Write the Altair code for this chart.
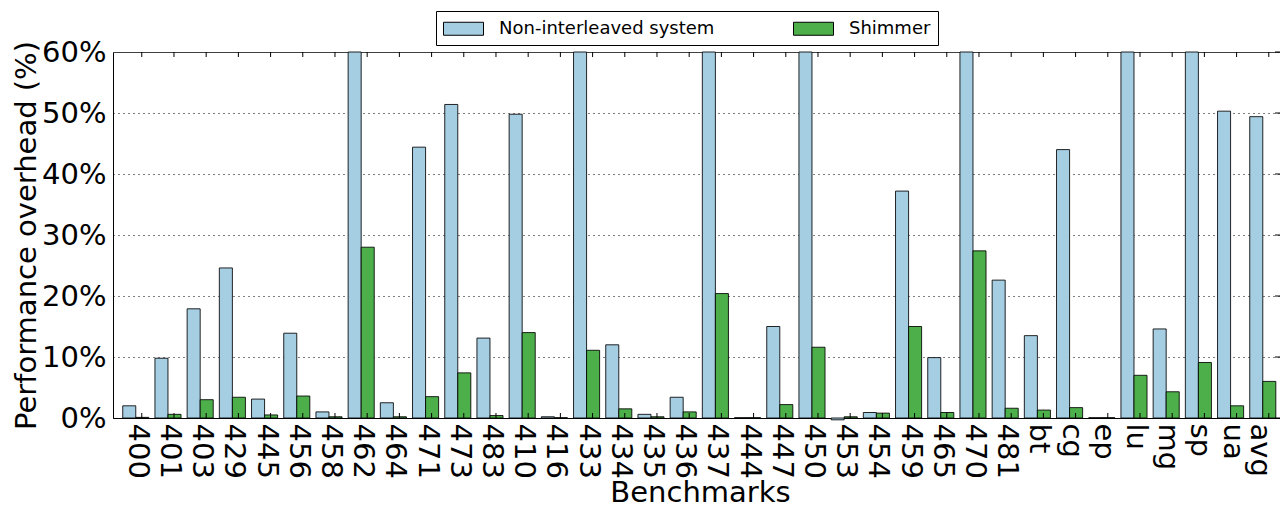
import altair as alt
import pandas as pd

categories = ["400", "401", "403", "429", "445", "456", "458", "462", "464", "471",
              "473", "483", "410", "416", "433", "434", "435", "436", "437", "444",
              "447", "450", "453", "454", "459", "465", "470", "481", "bt", "cg",
              "ep", "lu", "mg", "sp", "ua", "avg"]
# values above 60% are off the chart in the reference (drawn up to the top)
non_interleaved = [2.0, 9.8, 17.9, 24.6, 3.1, 13.9, 1.0, 65.0, 2.5, 44.4,
                   51.4, 13.1, 49.8, 0.2, 65.0, 12.0, 0.6, 3.4, 65.0, 0.05,
                   15.0, 65.0, -0.3, 0.9, 37.2, 9.9, 65.0, 22.6, 13.5, 44.0,
                   0.05, 65.0, 14.6, 65.0, 50.3, 49.4]
shimmer = [0.1, 0.6, 3.0, 3.4, 0.5, 3.6, 0.2, 28.0, 0.2, 3.5,
           7.4, 0.4, 14.0, 0.05, 11.1, 1.5, 0.2, 1.0, 20.4, 0.05,
           2.2, 11.6, 0.2, 0.8, 15.0, 0.9, 27.4, 1.6, 1.3, 1.7,
           0.05, 7.0, 4.3, 9.1, 2.0, 6.0]
series_names = ["Non-interleaved system", "Shimmer"]
series_colors = ["#a6cee3", "#4daf4a"]
y_ticks = [0, 10, 20, 30, 40, 50, 60]

rows = []
for c, a, b in zip(categories, non_interleaved, shimmer):
    rows.append({"bench": c, "series": series_names[0], "value": a})
    rows.append({"bench": c, "series": series_names[1], "value": b})
df = pd.DataFrame(rows)
df_c = pd.DataFrame({"bench": categories})
df_t = pd.DataFrame({"t": y_ticks})

W, H = 1167, 366
FONT = "DejaVu Sans"

x_scale = alt.Scale(paddingInner=0.19, paddingOuter=0.216, align=0.7)

x_enc = alt.X(
    "bench:N", sort=categories, scale=x_scale,
    axis=alt.Axis(title="Benchmarks", labelAngle=90, labelAlign="left",
                  labelBaseline="middle", labelPadding=5,
                  labelOffset={"condition": {"test": "datum.value === 'avg'",
                                             "value": -3},
                               "value": 2},
                  ticks=False, domain=True, grid=False,
                  labelFontSize=29, titleFontSize=29,
                  titleBaseline="alphabetic", titleAlign="center",
                  titleX=587, titleY=83),
)

bars = alt.Chart(df).transform_calculate(
    vplot="min(datum.value, 60)"
).mark_bar(stroke="black", strokeWidth=1, strokeOpacity=0.85).encode(
    x=x_enc,
    xOffset=alt.XOffset("series:N", sort=series_names,
                        scale=alt.Scale(paddingInner=0, paddingOuter=0)),
    y=alt.Y("vplot:Q",
            scale=alt.Scale(domain=[0, 60], nice=False, zero=True),
            axis=alt.Axis(title="Performance overhead (%)", values=y_ticks,
                          labelExpr="datum.value + '%'", ticks=False,
                          domain=True, grid=True, labelPadding=7,
                          gridDash={"condition": {"test": "datum.value === 60",
                                                  "value": [1, 0]},
                                    "value": [1, 4]},
                          labelFontSize=29, titleFontSize=29,
                          titleBaseline="alphabetic", titleAlign="center",
                          titleAngle=270, titleX=-78, titleY=183)),
    color=alt.Color("series:N",
                    scale=alt.Scale(domain=series_names, range=series_colors),
                    legend=alt.Legend(title=None, orient="none", legendX=323,
                                      legendY=-41, direction="horizontal",
                                      columns=2, strokeColor="black", padding=7,
                                      fillColor="white", labelFontSize=18,
                                      labelFont=FONT, labelColor="black",
                                      labelLimit=500,
                                      symbolType="M-1,-0.65H3V0.65H-1Z",
                                      symbolSize=400, symbolStrokeColor="black",
                                      symbolStrokeWidth=1, symbolOpacity=1,
                                      labelOffset=35, columnPadding=76,
                                      cornerRadius=0)),
)

top_ticks = alt.Chart(df_c).mark_rule(color="black", strokeWidth=1, xOffset=6).encode(
    x=alt.X("bench:N", sort=categories), y=alt.value(0), y2=alt.value(5))
bottom_ticks = alt.Chart(df_c).mark_rule(color="black", strokeWidth=1, xOffset=6).encode(
    x=alt.X("bench:N", sort=categories), y=alt.value(H - 5), y2=alt.value(H))
right_ticks = alt.Chart(df_t).mark_rule(color="black", strokeWidth=1).encode(
    y=alt.Y("t:Q"), x=alt.value(W - 5), x2=alt.value(W))

chart = alt.layer(bars, top_ticks, bottom_ticks, right_ticks).properties(
    width=W, height=H,
    autosize=alt.AutoSizeParams(type="none"),
    padding={"left": 105, "top": 44, "right": 0, "bottom": 90},
).configure_view(
    stroke=None
).configure_axis(
    labelFont=FONT, titleFont=FONT, labelColor="black", titleColor="black",
    titleFontWeight="normal", gridColor="black", gridOpacity=1, gridWidth=1,
    domainColor="black", domainWidth=1,
).configure_axisX(grid=False)

chart.save("out.html", embed_options={"renderer": "svg", "actions": False})
